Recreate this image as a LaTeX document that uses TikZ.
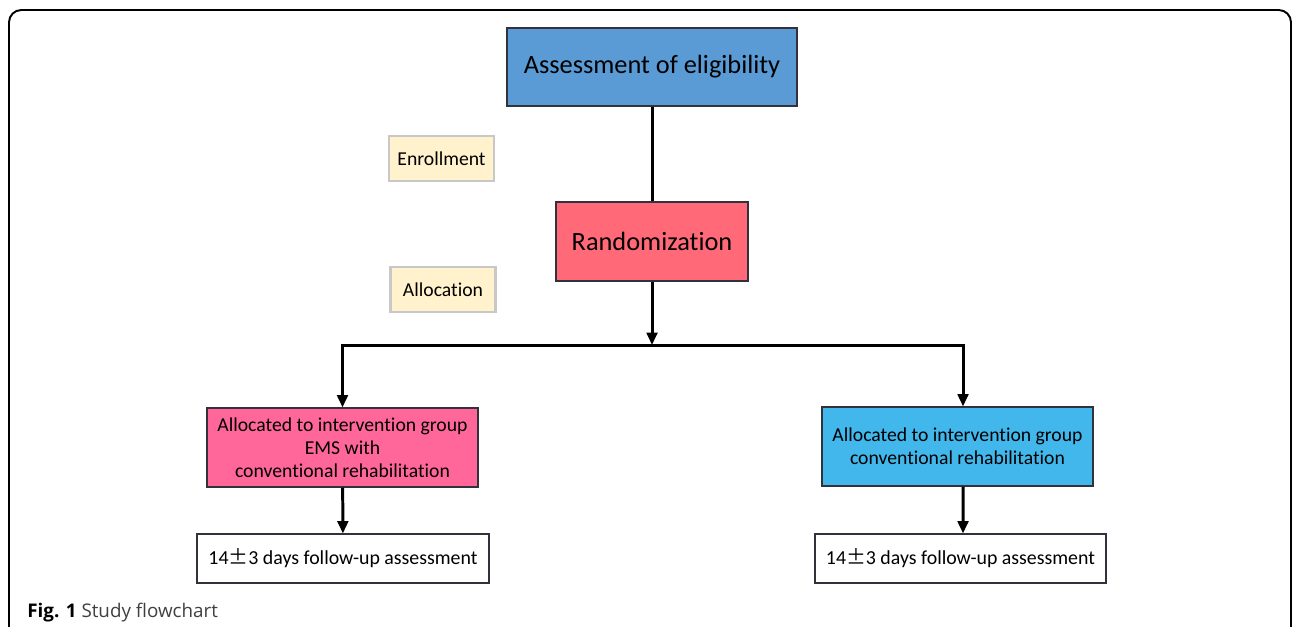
\documentclass[tikz,border=0pt]{standalone}
\usepackage{fontspec}
\setmainfont{Carlito}[Ligatures=NoCommon]
\newfontfamily\capfont{Open Sans}
\newfontfamily\cjk{Noto Sans CJK SC}
\usepackage{tikz}
\usepackage{xcolor}
\usetikzlibrary{arrows.meta,positioning}

\definecolor{assessblue}{RGB}{91,155,213}
\definecolor{randred}{RGB}{255,105,120}
\definecolor{emspink}{RGB}{255,102,153}
\definecolor{convblue}{RGB}{65,183,236}
\definecolor{phasefill}{RGB}{255,242,204}
\definecolor{phaseline}{RGB}{200,200,200}
\definecolor{boxline}{RGB}{50,50,60}

\tikzset{
	mainbox/.style={draw=boxline, line width=0.6pt, align=center, inner sep=2pt},
	phasebox/.style={draw=phaseline, line width=1.4pt, fill=phasefill, font=\fontsize{11.2}{13}\selectfont,
		minimum width=2.1cm, minimum height=0.9cm},
	flow/.style={line width=1.7pt, -{Triangle[width=6pt,length=7pt]}},
	plainflow/.style={line width=1.7pt}
}

\begin{document}
\begin{tikzpicture}
	\useasboundingbox (0,0) rectangle (25.84,-12.52);
	% outer frame
	\draw[line width=1.1pt, rounded corners=7pt] (0.18,-12.6) |- (25.82,-0.2) -- (25.82,-12.6);

	% main steps
	\node[mainbox, fill=assessblue, minimum width=5.8cm, minimum height=1.56cm,
		font=\fontsize{15}{18}\selectfont] (assess) at (13.04,-1.34) {Assessment of eligibility};
	\node[mainbox, fill=randred, minimum width=3.84cm, minimum height=1.58cm,
		font=\fontsize{15}{18}\selectfont] (rand) at (13.04,-4.83) {Randomization};

	% phase labels
	\node[phasebox] (enroll) at (8.83,-3.17) {Enrollment};
	\node[phasebox] (alloc) at (8.86,-5.79) {Allocation};

	% groups
	\node[mainbox, fill=emspink, minimum width=5.42cm, minimum height=1.58cm,
		font=\fontsize{11.2}{13}\selectfont] (emsgroup) at (6.85,-8.95)
		{Allocated to intervention group\\EMS with\\conventional rehabilitation};
	\node[mainbox, fill=convblue, minimum width=5.42cm, minimum height=1.58cm,
		font=\fontsize{11.2}{13}\selectfont] (convgroup) at (19.15,-8.93)
		{Allocated to intervention group\\conventional rehabilitation};

	% follow-up
	\node[mainbox, fill=white, minimum width=5.84cm, minimum height=0.98cm,
		font=\fontsize{11.3}{13}\selectfont] (followems) at (6.86,-11.17)
		{14{\cjk ±}3 days follow-up assessment};
	\node[mainbox, fill=white, minimum width=5.82cm, minimum height=0.98cm,
		font=\fontsize{11.3}{13}\selectfont] (followconv) at (19.21,-11.17)
		{14{\cjk ±}3 days follow-up assessment};

	\coordinate (split) at (13.04,-6.9);

	% connectors
	\draw[plainflow] (assess) -- (rand);
	\draw[flow] (rand) -- (split);
	\draw[flow] (split) -| (emsgroup.north);
	\draw[flow] (split) -| ([xshift=0.11cm]convgroup.north);
	\draw[flow] (emsgroup) -- (followems);
	\draw[flow] ([xshift=0.11cm]convgroup.south) -- ([xshift=0.05cm]followconv.north);

	% caption
	\node[anchor=base west, inner sep=0pt, font=\capfont\fontsize{10.7}{12}\selectfont] (caption) at (0.54,-12.34)
		{\textbf{Fig. 1} \textcolor{black!75}{Study flowchart}};
\end{tikzpicture}
\end{document}
